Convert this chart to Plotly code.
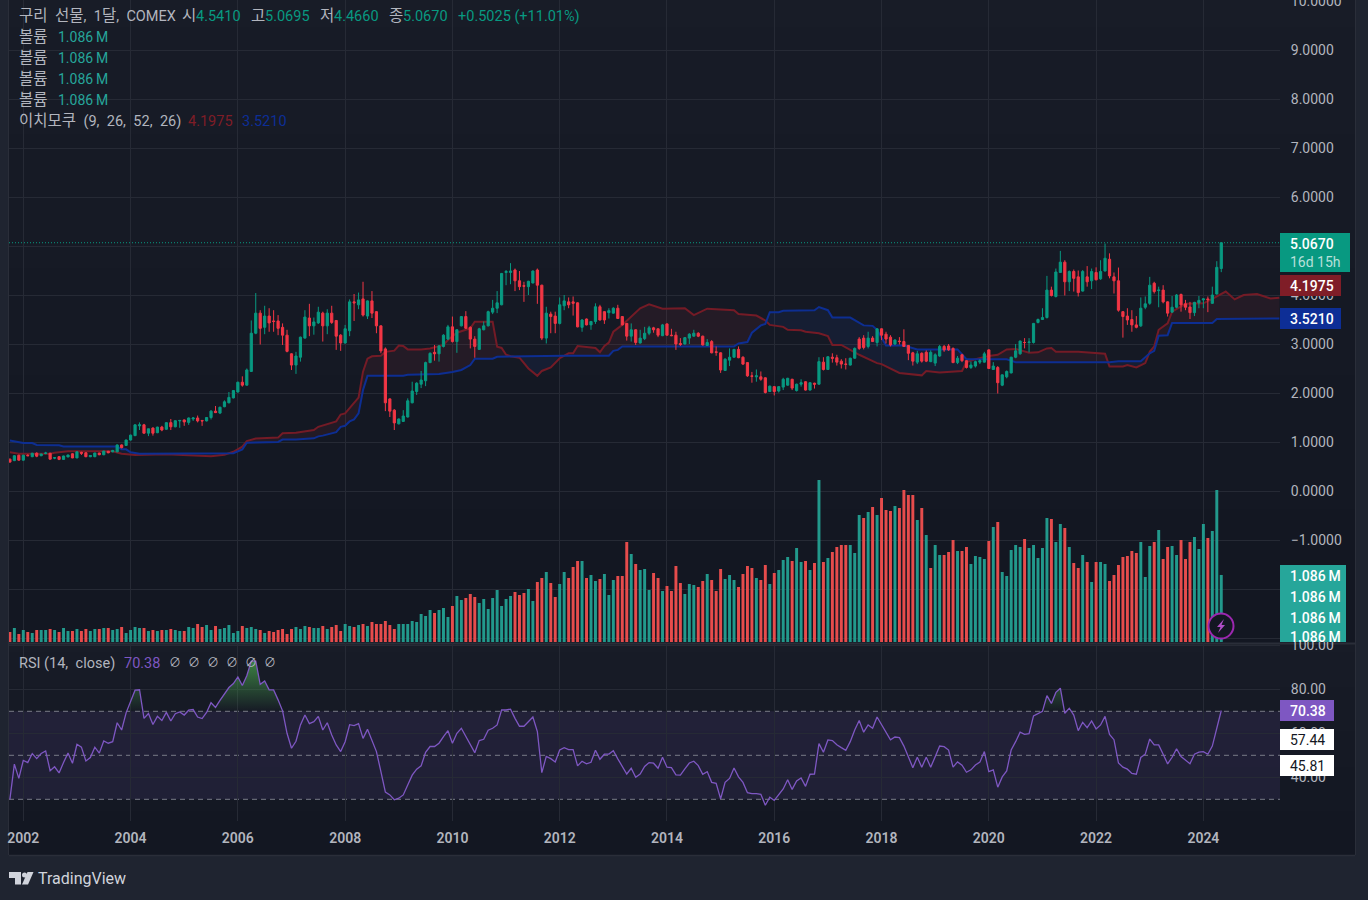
import numpy as np
import plotly.graph_objects as go

W, H = 1368, 900

# Monthly bars, index 0 = January 2002
opens = [
 .65,.62,.73,.63,.73,.70,.77,.72,.765,.77,
 .67,.70,.645,.695,.76,.675,.79,.78,.70,.70,
 .775,.74,.81,.80,.80,.94,.93,1.04,1.13,1.33,
 1.35,1.18,1.285,1.19,1.305,1.26,1.395,1.31,1.43,1.45,
 1.40,1.47,1.49,1.44,1.43,1.50,1.63,1.59,1.72,1.80,
 1.90,2.02,2.22,2.16,2.44,3.22,3.63,3.34,3.57,3.47,
 3.47,3.34,3.18,2.80,2.57,2.73,3.12,3.53,3.37,3.43,
 3.63,3.37,3.63,3.48,3.18,3.02,3.27,3.86,3.80,3.92,
 3.57,3.88,3.66,3.37,2.90,1.88,1.65,1.37,1.42,1.51,
 1.80,2.03,2.18,2.25,2.62,2.83,2.80,2.95,3.10,3.35,
 3.05,3.37,3.56,3.34,3.10,2.89,3.29,3.37,3.65,3.73,
 3.80,4.46,4.46,4.51,4.29,4.19,4.17,4.245,4.51,4.20,
 3.12,3.61,3.57,3.42,3.78,3.86,3.86,3.84,3.34,3.51,
 3.39,3.46,3.76,3.66,3.64,3.63,3.73,3.56,3.42,3.16,
 3.29,3.02,3.11,3.22,3.33,3.31,3.17,3.41,3.18,3.18,
 3.01,3.00,3.12,3.16,3.22,3.16,2.97,3.05,2.84,2.82,
 2.46,2.67,2.73,2.89,2.73,2.62,2.35,2.33,2.33,2.31,
 2.03,2.13,2.04,2.12,2.16,2.28,2.05,2.18,2.23,2.06,
 2.20,2.18,2.63,2.48,2.73,2.72,2.65,2.59,2.57,2.71,
 3.10,3.12,2.95,3.12,3.03,3.31,3.20,3.14,3.00,3.06,
 3.05,2.97,2.82,2.63,2.81,2.83,2.64,2.61,2.755,2.95,
 2.96,2.91,2.62,2.78,2.66,2.52,2.55,2.63,2.63,2.88,
 2.48,2.52,2.16,2.33,2.41,2.73,2.80,3.03,3.03,3.03,
 3.44,3.50,3.54,4.10,3.97,4.46,4.67,4.27,4.48,4.37,
 4.08,4.37,4.29,4.46,4.33,4.49,4.73,4.37,4.29,3.66,
 3.57,3.50,3.39,3.37,3.75,3.83,4.24,4.09,4.10,3.86,
 3.65,3.75,4.01,3.82,3.755,3.64,3.84,3.90,3.92,3.83,
 4.02,4.5410]
highs = [
 .66,.73,.74,.74,.75,.78,.79,.76,.80,.78,
 .69,.71,.72,.74,.77,.81,.80,.79,.73,.78,
 .78,.82,.82,.84,.95,.95,1.05,1.15,1.36,1.40,
 1.37,1.27,1.30,1.31,1.33,1.40,1.47,1.44,1.45,1.46,
 1.50,1.51,1.54,1.45,1.51,1.65,1.735,1.72,1.85,2.02,
 2.06,2.23,2.34,2.50,3.48,4.04,3.69,3.78,3.73,3.69,
 3.59,3.42,3.29,2.81,2.84,3.15,3.69,3.82,3.54,3.76,
 3.66,3.71,3.78,3.49,3.20,3.39,3.91,4.02,4.05,4.27,
 3.89,4.08,3.67,3.38,2.93,1.89,1.67,1.48,1.65,1.89,
 2.23,2.22,2.45,2.64,2.83,2.98,2.98,3.20,3.39,3.56,
 3.30,3.57,3.67,3.36,3.16,3.33,3.46,3.68,3.90,4.08,
 4.45,4.51,4.65,4.54,4.49,4.27,4.29,4.50,4.54,4.21,
 3.76,3.66,3.66,3.95,4.00,3.95,3.97,3.85,3.51,3.52,
 3.47,3.83,3.80,3.67,3.73,3.75,3.80,3.57,3.43,3.42,
 3.30,3.29,3.35,3.37,3.35,3.32,3.41,3.42,3.31,3.25,
 3.12,3.14,3.22,3.29,3.24,3.17,3.10,3.08,2.95,2.83,
 2.71,2.91,2.90,2.95,2.75,2.63,2.43,2.48,2.44,2.32,
 2.15,2.14,2.14,2.31,2.31,2.29,2.19,2.28,2.24,2.22,
 2.21,2.73,2.73,2.75,2.81,2.78,2.69,2.71,2.72,2.93,
 3.14,3.18,3.25,3.16,3.32,3.32,3.25,3.18,3.10,3.14,
 3.30,2.98,2.84,2.86,2.83,2.87,2.87,2.81,2.98,2.98,
 3.00,2.93,2.755,2.80,2.67,2.64,2.66,2.69,2.84,2.89,
 2.63,2.55,2.38,2.46,2.74,3.00,3.07,3.12,3.12,3.43,
 3.52,3.73,4.39,4.17,4.54,4.90,4.71,4.50,4.52,4.50,
 4.51,4.59,4.54,4.565,4.71,5.05,4.85,4.46,4.56,3.67,
 3.73,3.69,3.57,3.95,3.97,4.37,4.27,4.17,4.20,3.87,
 3.98,4.02,4.03,3.90,3.86,3.86,3.98,3.93,3.97,4.17,
 4.69,5.0695]
lows = [
 .58,.61,.62,.62,.71,.69,.69,.71,.75,.64,
 .65,.63,.64,.69,.67,.67,.735,.69,.69,.69,
 .73,.73,.77,.79,.79,.87,.92,1.03,1.12,1.245,
 1.17,1.12,1.13,1.18,1.22,1.25,1.245,1.30,1.29,1.33,
 1.35,1.43,1.40,1.33,1.42,1.46,1.59,1.57,1.71,1.79,
 1.89,2.01,2.13,2.15,2.43,3.20,2.99,3.20,3.25,3.25,
 3.18,2.98,2.83,2.47,2.39,2.64,3.11,3.16,3.19,3.41,
 3.05,3.20,3.41,2.88,2.86,3.01,3.16,3.47,3.71,3.56,
 3.51,3.53,3.22,2.81,1.63,1.51,1.245,1.36,1.41,1.50,
 1.79,1.96,2.10,2.14,2.61,2.66,2.64,2.93,3.08,3.03,
 2.82,3.36,3.31,2.91,2.72,2.88,3.28,3.36,3.61,3.63,
 3.79,4.20,4.22,4.08,4.10,3.86,4.00,4.24,3.82,3.08,
 3.01,3.22,3.22,3.40,3.69,3.73,3.58,3.34,3.25,3.38,
 3.29,3.41,3.48,3.41,3.52,3.62,3.51,3.38,3.07,3.05,
 2.98,3.01,3.08,3.18,3.23,3.14,3.16,3.17,3.16,2.88,
 2.96,2.99,3.00,3.15,3.14,2.97,2.96,2.81,2.76,2.41,
 2.45,2.55,2.72,2.71,2.57,2.33,2.21,2.23,2.25,1.99,
 2.02,1.95,2.01,2.06,2.15,2.06,2.03,2.13,2.05,2.05,
 2.09,2.17,2.46,2.47,2.62,2.56,2.50,2.48,2.56,2.70,
 2.88,2.89,2.91,3.04,2.95,3.08,3.01,2.95,2.98,2.99,
 2.94,2.67,2.56,2.59,2.62,2.63,2.63,2.55,2.74,2.84,
 2.86,2.61,2.59,2.63,2.50,2.49,2.52,2.59,2.62,2.49,
 2.47,1.99,2.14,2.30,2.40,2.71,2.78,2.91,2.83,3.01,
 3.42,3.50,3.52,3.97,3.95,4.45,3.99,4.08,4.07,3.97,
 4.07,4.17,4.12,4.30,4.31,4.48,4.34,4.03,3.66,3.13,
 3.39,3.25,3.32,3.35,3.71,3.80,4.03,3.75,3.83,3.56,
 3.64,3.73,3.66,3.69,3.51,3.57,3.73,3.73,3.65,3.82,
 4.01,4.4660]
closes = [
 .59,.72,.63,.73,.72,.77,.71,.755,.775,.65,
 .68,.645,.715,.735,.675,.80,.77,.70,.725,.775,
 .74,.815,.78,.825,.94,.885,1.04,1.14,1.35,1.35,
 1.18,1.27,1.18,1.305,1.245,1.395,1.31,1.435,1.44,1.41,
 1.49,1.49,1.43,1.43,1.50,1.63,1.60,1.71,1.82,1.91,
 2.05,2.22,2.16,2.47,3.22,3.63,3.32,3.57,3.43,3.46,
 3.32,3.18,2.85,2.57,2.755,3.14,3.55,3.37,3.45,3.65,
 3.37,3.63,3.44,3.16,3.02,3.31,3.86,3.84,3.90,3.59,
 3.88,3.63,3.37,2.86,1.80,1.63,1.39,1.47,1.53,1.84,
 2.04,2.20,2.265,2.62,2.81,2.80,2.96,3.18,3.35,3.05,
 3.29,3.56,3.32,3.10,2.95,3.31,3.37,3.66,3.73,3.84,
 4.44,4.48,4.49,4.29,4.17,4.18,4.28,4.49,4.20,3.12,
 3.63,3.56,3.42,3.80,3.88,3.80,3.83,3.35,3.49,3.39,
 3.46,3.76,3.49,3.49,3.68,3.73,3.52,3.39,3.16,3.29,
 3.03,3.12,3.22,3.33,3.29,3.18,3.39,3.18,3.17,3.00,
 2.99,3.13,3.20,3.22,3.16,2.98,3.03,2.82,2.83,2.47,
 2.69,2.73,2.89,2.72,2.59,2.35,2.34,2.35,2.28,2.01,
 2.14,2.03,2.13,2.28,2.30,2.10,2.18,2.21,2.06,2.21,
 2.18,2.64,2.48,2.74,2.71,2.63,2.59,2.585,2.71,2.91,
 2.91,2.93,3.12,3.05,3.31,3.18,3.10,2.98,3.08,3.05,
 2.95,2.81,2.65,2.80,2.65,2.65,2.83,2.78,2.95,2.88,
 2.88,2.62,2.71,2.66,2.52,2.57,2.64,2.66,2.80,2.50,
 2.55,2.21,2.37,2.44,2.73,2.86,3.06,3.03,3.04,3.42,
 3.50,3.54,4.10,3.99,4.47,4.67,4.27,4.48,4.34,4.05,
 4.48,4.27,4.48,4.31,4.48,4.75,4.39,4.29,3.69,3.56,
 3.49,3.39,3.34,3.73,3.82,4.20,4.07,4.10,3.86,3.63,
 3.75,4.00,3.80,3.75,3.64,3.85,3.89,3.92,3.905,4.00,
 4.5645,5.0670]

volumes_k = [
 162,227,130,194,162,146,194,194,194,211,194,162,227,178,178,211,178,211,178,211,
 211,227,227,194,211,243,146,194,243,227,227,178,194,178,194,194,211,194,178,178,
 243,227,292,243,275,194,259,211,227,275,146,178,259,227,243,211,194,146,178,162,
 194,211,130,211,243,211,259,243,227,227,259,211,243,275,178,292,259,243,275,292,
 259,324,292,292,340,275,211,292,292,292,340,324,454,421,518,470,518,551,405,583,745,
 680,713,778,729,632,697,535,713,842,583,
 697,745,810,761,794,859,664,972,1037,1134,
 956,729,940,1134,1037,1215,1312,1312,1037,1085,
 988,1021,1102,761,1004,1069,1069,1620,1426,1264,
 1166,1183,842,1118,1037,826,907,826,1231,956,
 778,940,923,891,988,1102,1004,826,1183,1021,
 1085,1004,891,1102,1231,1199,1037,1004,1247,940,
 1118,1166,1328,1377,1312,1523,1296,1312,1166,1280,
 2624,1296,1361,1458,1539,1571,1571,1571,1442,2057,
 2009,2106,2187,2057,2333,2138,2122,2203,2171,2462,
 2381,2381,1976,2171,1733,1199,1571,1409,1409,1458,
 1652,1474,1474,1539,1264,1393,1377,1345,1636,1863,
 1944,1134,1069,1490,1571,1539,1669,1523,1571,1361,
 1523,2009,1993,1620,1912,1847,1539,1280,1199,1409,
 1296,972,1296,1296,1264,988,1085,1247,1377,1393,
 1474,1442,1620,1053,1555,1620,1814,1345,1539,1555,
 1409,1652,1345,1620,1701,1507,1912,1685,1798,2462,1086]
volume_dirs = (
 "rgrgrgrggr" "grggrgrrgg" "rgrggrgggg" "rgrgrgrggr" "ggrrggrggg"
 "ggrgggrgrr" "rrrrgggrgg" "rgrrrggrgr" "grrrrrrggg" "gggggrgggrg"
 "grrrgggggg" "ggrrrggrrg" "rrggrrrgrg" "grgggrrrgr" "gggrrgrrrr"
 "gggrrgrrrg" "ggrrrrgrrg" "rgggrggrgr" "grgrrrrggg" "rgrgrrrgrr"
 "rrgrgrggrr" "rgrrggggrg" "rgggggrggg" "ggrggrgrrg" "rgrggrrrrr"
 "rrgggrgrrg" "grrrgggrggg")

rsi = [
 30,46,39.5,47.7,46.7,50.8,48.5,50.8,52,43,44.8,42,46.7,51,46.4,55,53.7,47.4,49,53.7,
 51,56.5,55.5,56.2,64.8,61.5,69.3,74.5,79.6,79.8,66.8,69,64,67.7,65.8,69.5,65.6,68.9,69.7,68.3,
 70.5,70.8,67.4,66.7,69.5,73.9,71.8,75,78,80.8,82.6,85.6,81.7,86.2,92.8,92.8,82.3,83.8,79.8,79.7,
 75.2,70.2,60,53.2,56.4,63.8,68.3,64.4,65.3,67.7,61.5,64.8,59.2,54.7,51.7,56.2,63.9,63.5,64.4,57.7,
 61.8,56.5,51.7,42.6,33.3,32,29.8,30.5,32,36.5,41,43.7,45.2,51.4,54,54,55.5,58.5,61.2,55.5,60,
 62.3,58.5,54.3,51.2,56.7,57.3,61.4,62.3,63.8,70.6,70.6,71,66.8,63.2,63.2,65.3,67.4,60.8,42.1,49.5,
 48.5,47,52.4,53.5,52.6,52.6,45.2,47.3,46.1,46.8,52.3,48.2,50.5,50.6,52.1,48.4,44.9,41.5,44.1,40,
 41.5,44.9,46.7,46.4,44.1,49.1,44.6,44.4,41.1,41,43.8,46.5,47.3,45.3,41.4,42.6,37.7,37.3,30.2,37.7,
 39.5,44.2,40.2,37.7,33,32.6,32.6,32.3,27.3,31,29.5,32,34.7,38.9,34.5,38.3,39.7,35.9,41.4,41.5,
 55.3,51.4,57,56.7,54.8,53.5,52.3,56.2,61.5,65.8,60.5,63.8,62.3,67.4,64.1,60.8,57,58.3,58,54.2,
 49.4,44.4,49.1,44.6,49.1,44.6,49.4,54.2,53.9,52.4,44.6,47,45.5,42.3,43.4,45.6,46.9,51.7,42.6,43.4,
 35.5,40.2,42.9,52.4,56.2,60.5,59.5,59.8,67.9,69.1,70,77.1,73.6,78.6,80.5,69.1,71.4,68.3,61.2,65,
 62.6,65.6,62,63.8,67.7,59.5,57.1,46.5,44.6,43.7,41.8,41.4,49,50.5,57.4,54.7,54.7,50.5,46.1,49.1,
 53,49.4,47.9,46.2,50.5,51.4,51.7,50.5,54.2,62.3,70.38]

# Leading spans of the cloud: month index and value at each vertex
span_a_months = [
 -3,-1,6,7,10,20,22,25,32,39,42,45,47,49,50,52,57,58,61,65,66,70,71,72,73,75,76,77,78,80,81,83,84,85,86,89,91,
 94,95,97,99,100,101,105,106,107,108,109,111,113,115,116,118,120,122,123,124,126,128,129,130,131,132,134,136,138,140,
 143,148,150,153,157,159,160,164,166,167,170,171,174,175,178,180,181,183,185,187,191,192,196,201,202,205,210,211,213,
 216,218,220,222,225,227,229,230,231,236,240,242,243,246,247,249,251,252,253,254,256,257,260,264,266,268,269,271,273,
 276,279,281]
span_a_values = [
 .79,.76,.76,.78,.81,.81,.76,.735,.75,.715,.71,.74,.80,.905,1.02,1.07,1.09,1.18,1.19,1.245,1.31,1.42,1.56,1.585,1.69,1.905,2.435,2.70,2.75,2.76,2.84,2.865,2.97,2.96,2.89,2.89,2.91,
 2.98,3.08,3.23,3.29,3.32,3.455,3.455,2.945,2.92,2.78,2.75,2.72,2.50,2.35,2.45,2.52,2.71,2.81,2.81,2.96,2.94,2.92,2.83,2.96,3.03,3.25,3.39,3.56,3.73,3.81,
 3.72,3.73,3.59,3.72,3.69,3.69,3.61,3.58,3.48,3.39,3.35,3.29,3.28,3.25,3.22,3.16,2.98,2.98,2.88,2.78,2.61,2.59,2.41,2.36,2.45,2.42,2.45,2.63,2.69,
 2.755,2.78,2.89,2.90,2.82,2.83,2.91,2.92,2.84,2.84,2.82,2.80,2.54,2.54,2.57,2.52,2.61,2.84,2.95,3.29,3.42,3.66,3.82,3.83,3.92,4.02,4.07,3.91,4.00,
 4.02,3.93,3.945]
span_b_months = [
 -3,-2,0,2,3,8,9,21,22,23,24,26,47,49,50,52,57,58,61,65,66,67,70,71,72,73,74,75,76,77,85,86,89,93,96,98,100,101,105,106,
 121,131,132,133,134,159,160,162,163,165,166,167,169,170,177,178,180,181,185,188,190,191,193,197,200,209,211,220,222,243,
 245,250,252,253,254,256,257,266,267,281]
span_b_values = [
 1.03,1.01,.98,.98,.94,.935,.91,.91,.85,.85,.79,.76,.77,.85,.985,.99,1.00,1.05,1.05,1.075,1.115,1.13,1.20,1.31,1.33,1.42,1.46,1.585,2.06,2.35,2.35,2.37,2.38,2.39,2.43,2.47,2.57,2.70,2.70,2.74,
 2.76,2.76,2.86,2.88,2.95,2.95,3.01,3.04,3.23,3.38,3.41,3.65,3.65,3.68,3.69,3.755,3.69,3.54,3.54,3.38,3.37,3.29,2.97,2.97,2.89,2.89,2.69,2.69,2.63,2.63,
 2.65,2.65,2.81,2.86,3.17,3.18,3.43,3.43,3.51,3.521]

price_ticks = [10,9,8,7,6,5,4,3,2,1,0,-1,-2,-3]
price_tick_labels = ["10.0000","9.0000","8.0000","7.0000","6.0000","","4.0000","3.0000",
                     "2.0000","1.0000","0.0000","\u22121.0000","",""]
rsi_ticks = [100,80,60,40]
rsi_tick_labels = ["100.00","80.00","60.00","40.00"]
year_ticks = [0,24,48,72,96,120,144,168,192,216,240,264]
year_labels = ["2002","2004","2006","2008","2010","2012","2014","2016","2018","2020","2022","2024"]

assert all(len(s) == 272 for s in (opens, highs, lows, closes, volumes_k, volume_dirs, rsi))
assert len(span_a_months) == len(span_a_values) and len(span_b_months) == len(span_b_values)

months = list(range(-3, 269))
GREEN, RED = "#089981", "#f23645"
VOL_GREEN, VOL_RED = "#22998c", "#e64c4c"
SPAN_A, SPAN_B = "#741b26", "#0d2e92"
FONT = "Roboto, 'Noto Sans CJK KR', sans-serif"
TEXT = "#b2b5be"
OUTER = "#1f2430"
WIDE = "\u2002"


def px(x):
    return x / W


def py(y):
    return 1 - y / H


def with_crossings(x, u, v):
    """Insert the points where two polylines cross, so fills meet cleanly."""
    xs, us, vs = [], [], []
    for i in range(len(x)):
        xs.append(x[i]); us.append(u[i]); vs.append(v[i])
        if i + 1 < len(x):
            d0, d1 = u[i] - v[i], u[i + 1] - v[i + 1]
            if d0 * d1 < 0:
                t = d0 / (d0 - d1)
                xs.append(x[i] + t * (x[i + 1] - x[i]))
                c = u[i] + t * (u[i + 1] - u[i])
                us.append(c); vs.append(c)
    return np.array(xs), np.array(us), np.array(vs)


fig = go.Figure()

# Cloud fills, red where span A leads and blue where span B leads
grid = np.union1d(span_a_months, span_b_months).astype(float)
cx, ca, cb = with_crossings(grid, np.interp(grid, span_a_months, span_a_values),
                            np.interp(grid, span_b_months, span_b_values))
for base, top, col in ((cb, np.maximum(ca, cb), "rgba(242,54,69,0.07)"),
                       (ca, np.maximum(ca, cb), "rgba(41,98,255,0.07)")):
    fig.add_trace(go.Scatter(x=cx, y=base, mode="lines", line=dict(width=0), hoverinfo="skip", showlegend=False))
    fig.add_trace(go.Scatter(x=cx, y=top, mode="lines", line=dict(width=0), fill="tonexty",
                             fillcolor=col, hoverinfo="skip", showlegend=False))
fig.add_trace(go.Scatter(x=span_a_months, y=span_a_values, mode="lines", line=dict(color=SPAN_A, width=2), showlegend=False))
fig.add_trace(go.Scatter(x=span_b_months, y=span_b_values, mode="lines", line=dict(color=SPAN_B, width=2), showlegend=False))

# Volume histogram on its own hidden scale
fig.add_trace(go.Bar(x=months, y=volumes_k, width=0.66, yaxis="y2", showlegend=False,
                     marker=dict(color=[VOL_GREEN if d == "g" else VOL_RED for d in volume_dirs], line=dict(width=0))))

# Candles sit above the cloud lines on an overlaid axis with the same range
fig.add_trace(go.Candlestick(x=months, open=opens, high=highs, low=lows, close=closes, yaxis="y4",
                             increasing=dict(line=dict(color=GREEN, width=1), fillcolor=GREEN),
                             decreasing=dict(line=dict(color=RED, width=1), fillcolor=RED),
                             whiskerwidth=0, showlegend=False))

# RSI pane with the overbought gradient
rx, rtop, rbase = with_crossings(np.array(months, float), np.array(rsi, float), np.full(len(rsi), 70.0))
fig.add_trace(go.Scatter(x=rx, y=rbase, yaxis="y3", mode="lines", line=dict(width=0), hoverinfo="skip", showlegend=False))
fig.add_trace(go.Scatter(x=rx, y=np.maximum(rtop, 70), yaxis="y3", mode="lines", line=dict(width=0), fill="tonexty",
                         fillgradient=dict(type="vertical", start=95, stop=70,
                                           colorscale=[[0, "rgba(76,175,80,0.75)"], [1, "rgba(76,175,80,0)"]]),
                         hoverinfo="skip", showlegend=False))
fig.add_trace(go.Scatter(x=months, y=rsi, yaxis="y3", mode="lines", line=dict(color="#7e57c2", width=1.3), showlegend=False))

shapes = []


def rect(x0, y0, x1, y1, color, layer="above"):
    shapes.append(dict(type="rect", xref="paper", yref="paper", x0=px(x0), x1=px(x1), y0=py(y0), y1=py(y1),
                       fillcolor=color, line=dict(width=0), layer=layer))


def hline(x0, x1, y, color, width=1):
    shapes.append(dict(type="line", xref="paper", yref="paper", x0=px(x0), x1=px(x1), y0=py(y), y1=py(y),
                       line=dict(color=color, width=width), layer="below"))


# Vertical background gradient in each pane
for top, bottom in ((0, 643), (643, 855)):
    n = 24
    for i in range(n):
        t = i / (n - 1)
        c = "rgb(%d,%d,%d)" % (24 + (19 - 24) * t, 28 + (23 - 28) * t, 39 + (34 - 39) * t)
        y0 = top + round((bottom - top) * i / n)
        y1 = top + round((bottom - top) * (i + 1) / n)
        rect(9, y0, 1355, y1, c, layer="below")

hline(9, 1355, 643.5, "#2a2e39", 2)
hline(9, 1355, 855.5, "#2a2e39", 1.5)
shapes.append(dict(type="line", xref="paper", yref="paper", x0=px(1355.5), x1=px(1355.5), y0=py(0), y1=py(855),
                   line=dict(color="#2a2e39", width=1), layer="below"))
shapes.append(dict(type="line", xref="paper", yref="paper", x0=px(8.5), x1=px(8.5), y0=py(0), y1=py(855),
                   line=dict(color="#2a2e39", width=1), layer="below"))

# RSI band and its three dashed levels
shapes.append(dict(type="rect", xref="paper", yref="y3", x0=px(9), x1=px(1280), y0=30, y1=70,
                   fillcolor="rgba(126,87,194,0.12)", line=dict(width=0), layer="below"))
for level in (70, 50, 30):
    shapes.append(dict(type="line", xref="paper", yref="y3", x0=px(9), x1=px(1280), y0=level, y1=level,
                       line=dict(color="#787b86", width=1, dash="5px,4px"), layer="below"))

# Last price line
shapes.append(dict(type="line", xref="paper", yref="y", x0=px(9), x1=px(1280), y0=closes[-1], y1=closes[-1],
                   line=dict(color=GREEN, width=1, dash="1px,2px"), layer="below"))

# Price and indicator tags on the right scale
rect(1280, 233, 1350, 272, GREEN)
rect(1280, 275, 1341, 296, "#7f1d27")
rect(1280, 308, 1341, 329, "#0d2e96")
rect(1280, 565, 1346, 642, "#26a69a")
rect(1280, 700, 1334, 721, "#7e57c2")
rect(1280, 729, 1334, 750, "#ffffff")
rect(1280, 755, 1334, 776, "#ffffff")

# Lightning badge
shapes.append(dict(type="circle", xref="paper", yref="paper", x0=px(1208.5), x1=px(1233.5), y0=py(613.5), y1=py(638.5),
                   fillcolor="#131722", line=dict(color="#9c27b0", width=2), layer="above"))


def polygon(points, color):
    d = "M " + " L ".join("%.5f,%.5f" % (px(a), py(b)) for a, b in points) + " Z"
    shapes.append(dict(type="path", xref="paper", yref="paper", path=d, fillcolor=color, line=dict(width=0), layer="above"))


polygon([(1224, 619), (1217, 627), (1220.5, 627), (1218, 633), (1225, 625), (1221.5, 625)], "#b04fc8")

# TradingView mark in the footer
LOGO = "#d1d4dc"
polygon([(9, 872), (21, 872), (21, 884.5), (15, 884.5), (15, 878), (9, 878)], LOGO)
polygon([(33.5, 872), (27.5, 872), (22, 884.5), (28, 884.5)], LOGO)
shapes.append(dict(type="circle", xref="paper", yref="paper", x0=px(22), x1=px(27), y0=py(872.5), y1=py(877.5),
                   fillcolor=LOGO, line=dict(width=0), layer="above"))

annotations = []


def label(x, y, text, color=TEXT, size=14.5, weight=None, anchor="left"):
    annotations.append(dict(x=px(x), y=py(y), xref="paper", yref="paper", text=text, showarrow=False,
                            xanchor=anchor, yanchor="middle",
                            font=dict(family=FONT, size=size, color=color, weight=weight or 400),
                            borderpad=0, borderwidth=0))


def hangul(text):
    return "<span style='font-size:15.5px'>%s</span>" % text


# Legend rows
label(19, 16, hangul("구리") + WIDE + hangul("선물") + "," + WIDE + "1" + hangul("달") + "," + WIDE + "COMEX")
for x, key, x2, val in ((182, "시", 196, "4.5410"), (251, "고", 265, "5.0695"), (320, "저", 334, "4.4660"), (389, "종", 403, "5.0670")):
    label(x, 16, hangul(key))
    label(x2, 16, val, GREEN)
label(458, 16, "+0.5025 (+11.01%)", GREEN)
for y in (37, 58, 79, 100):
    label(19, y, hangul("볼륨"))
    label(58, y, "1.086\u2009M", "#26a69a", size=14)
label(19, 121, hangul("이치모쿠") + WIDE + "(9," + WIDE + "26," + WIDE + "52," + WIDE + "26)")
label(188, 121, "4.1975", "#7f1d27")
label(242, 121, "3.5210", "#0d2e96")
label(19, 663, "RSI (14," + WIDE + "close)")
label(124, 663, "70.38", "#7e57c2")
for x in (175, 194, 213, 232, 251, 270):
    label(x, 663, "\u2205", TEXT, size=12, anchor="center")

# Tag captions
label(1290, 243.5, "5.0670", "#ffffff", size=14, weight=500)
label(1290, 262, "16d 15h", "rgba(255,255,255,0.72)", size=14)
label(1290, 285.5, "4.1975", "#ffffff", size=14, weight=500)
label(1290, 318.5, "3.5210", "#ffffff", size=14, weight=500)
for y in (575.5, 596.5, 617.5, 637):
    label(1290, y, "1.086\u2009M", "#ffffff", size=14, weight=500)
label(1290, 711, "70.38", "#ffffff", size=14, weight=500)
label(1290, 740, "57.44", "#131722", size=14)
label(1290, 766, "45.81", "#131722", size=14)
label(38, 878, "TradingView", "#d1d4dc", size=16)

GRID = "#262a35"
price_range = [-3.0816, 10.0204]
fig.update_layout(
    width=W, height=H, margin=dict(l=0, r=0, t=0, b=0, autoexpand=False), autosize=False,
    paper_bgcolor=OUTER, plot_bgcolor="rgba(0,0,0,0)", showlegend=False, barmode="overlay",
    xaxis=dict(domain=[px(9), px(1280)], range=[-3.2, 281.14], anchor="y3", automargin=False, ticklabeloverflow="allow",
               tickmode="array", tickvals=year_ticks, ticktext=year_labels, showgrid=True, gridcolor=GRID, gridwidth=1,
               zeroline=False, showline=False, rangeslider=dict(visible=False),
               ticks="outside", ticklen=4, tickcolor="rgba(0,0,0,0)",
               tickfont=dict(family=FONT, size=14, color=TEXT, weight=600)),
    yaxis=dict(domain=[py(642), 1], range=price_range, side="right", anchor="x", automargin=False, ticklabeloverflow="allow",
               tickmode="array", tickvals=price_ticks, ticktext=price_tick_labels, showgrid=True, gridcolor=GRID,
               gridwidth=1, zeroline=False, showline=False, ticks="outside", ticklen=7, tickcolor="rgba(0,0,0,0)",
               tickfont=dict(family=FONT, size=14, color=TEXT)),
    yaxis2=dict(domain=[py(642), 1], range=[0, 10400], overlaying="y", anchor="x", visible=False, showgrid=False),
    yaxis4=dict(domain=[py(642), 1], range=price_range, overlaying="y", anchor="x", visible=False, showgrid=False),
    yaxis3=dict(domain=[py(821), py(643)], range=[20.14, 101.05], side="right", anchor="x", automargin=False, ticklabeloverflow="allow",
                tickmode="array", tickvals=rsi_ticks, ticktext=rsi_tick_labels, showgrid=True, gridcolor=GRID, gridwidth=1,
                zeroline=False, showline=False, ticks="outside", ticklen=7, tickcolor="rgba(0,0,0,0)",
                tickfont=dict(family=FONT, size=14, color=TEXT)),
    shapes=shapes, annotations=annotations,
)

fig.write_html("out.html", config=dict(displayModeBar=False))
